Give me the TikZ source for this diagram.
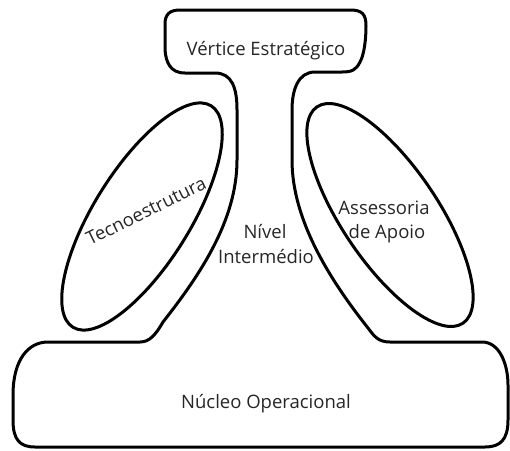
\documentclass[tikz,border=0pt]{standalone}
\usepackage{fontspec}
\setmainfont{Open Sans}
\usetikzlibrary{shapes.geometric}
\tikzset{
  outline/.style={line width=3pt, line join=round, line cap=round},
  wing/.style={draw, ellipse, line width=3pt, inner sep=0pt, minimum width=261pt, minimum height=96pt},
  lbl/.style={font=\fontsize{18.5}{25}\selectfont, text=black!85, inner sep=0pt, anchor=base}
}
\begin{document}
\begin{tikzpicture}[x=1pt,y=-1pt]
\useasboundingbox (0,0) rectangle (510,450);
\draw[outline] (180,10) -- (350,10)
  .. controls (362,10) and (366,14) .. (366,26)
  .. controls (366,40) and (364,55) .. (360,62)
  .. controls (356,70) and (352,72) .. (342,72)
  -- (315,72)
  .. controls (298,72) and (292,90) .. (292,110)
  -- (292,160)
  .. controls (292,220) and (330,280) .. (368,328)
  .. controls (374,336) and (378,342) .. (390,342)
  -- (482,342)
  .. controls (500,342) and (508,365) .. (508,385)
  -- (508,420)
  .. controls (508,440) and (500,447) .. (485,447)
  -- (35,447)
  .. controls (20,447) and (13,440) .. (13,420)
  -- (13,395)
  .. controls (13,360) and (28,342) .. (48,342)
  -- (140,342)
  .. controls (150,342) and (156,334) .. (163,322)
  .. controls (200,275) and (237,220) .. (237,160)
  -- (237,110)
  .. controls (237,88) and (232,73) .. (215,73)
  -- (185,73)
  .. controls (170,73) and (166,62) .. (165,50)
  -- (165,24)
  .. controls (165,14) and (170,10) .. (180,10) -- cycle;
\node[wing, rotate=58] (tecno) at (142,216.5) {};
\node[wing, rotate=-56] (asses) at (390,215) {};
\node[lbl] (vertice) at (266,55) {Vértice Estratégico};
\node[lbl] (nucleo) at (266,408) {Núcleo Operacional};
\node[lbl] (nivel) at (265,238) {Nível};
\node[lbl] (inter) at (266,263) {Intermédio};
\node[lbl] (assess) at (384,214) {Assessoria};
\node[lbl] (apoio) at (387,238) {de Apoio};
\node[font=\fontsize{18.5}{25}\selectfont, text=black!85, inner sep=0pt, rotate=26] (tecnolbl) at (146,211) {Tecnoestrutura};
\end{tikzpicture}
\end{document}
